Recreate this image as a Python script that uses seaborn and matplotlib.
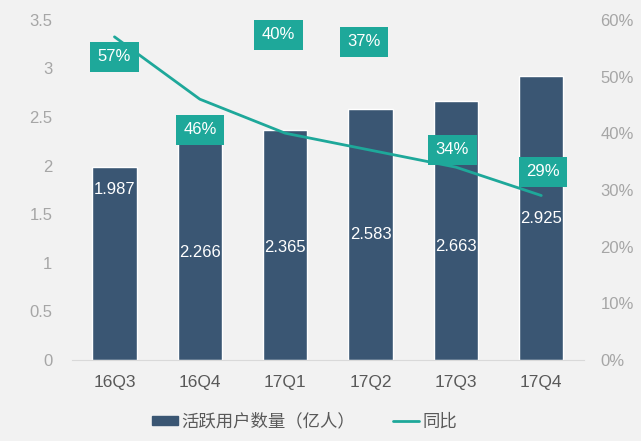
import numpy as np
import pandas as pd
import matplotlib
matplotlib.use('Agg')
import matplotlib.pyplot as plt
from matplotlib.patches import Patch
from matplotlib.lines import Line2D
import seaborn as sns

# data
quarters = ['16Q3', '16Q4', '17Q1', '17Q2', '17Q3', '17Q4']
users = [1.987, 2.266, 2.365, 2.583, 2.663, 2.925]   # 活跃用户数量（亿人）
growth = [57, 46, 40, 37, 34, 29]                    # 同比 (%)

# label placement (value-axis units)
user_lab_y = [1.75, 1.11, 1.16, 1.29, 1.17, 1.46]
growth_lab_x = [0.0, 1.0, 1.92, 2.92, 3.96, 5.02]
growth_lab_y = [53.5, 40.6, 57.4, 56.1, 37.1, 33.2]

bar_color = '#3a5673'
teal = '#1ea89a'
bg = '#f2f2f2'

sns.set_style('white')
plt.rcParams['font.family'] = ['Liberation Sans', 'Noto Sans CJK SC', 'DejaVu Sans']

df = pd.DataFrame({'quarter': quarters, 'users': users, 'growth': growth})

fig = plt.figure(figsize=(6.41, 4.41), dpi=100, facecolor=bg)
ax = fig.add_axes([0.112, 0.184, 0.799, 0.771])
ax.set_facecolor(bg)

sns.barplot(data=df, x='quarter', y='users', color=bar_color, width=0.52,
            saturation=1, ax=ax)
ax.set_xlim(-0.5, 5.5)
ax.set_ylim(0, 3.5)
ax.set_yticks([0, 0.5, 1, 1.5, 2, 2.5, 3, 3.5])
ax.set_yticklabels(['0', '0.5', '1', '1.5', '2', '2.5', '3', '3.5'])
ax.set_xlabel('')
ax.set_ylabel('')
ax.tick_params(axis='y', colors='#a6a6a6', labelsize=12, length=0, pad=14)
ax.tick_params(axis='x', colors='#595959', labelsize=12.5, length=0, pad=11)
for s in ['top', 'right', 'left']:
    ax.spines[s].set_visible(False)
ax.spines['bottom'].set_color('#d9d9d9')

for i, v in enumerate(users):
    ax.text(i, user_lab_y[i], '%.3f' % v, color='white', fontsize=12,
            ha='center', va='center')

# growth line on right axis
ax2 = ax.twinx()
sns.lineplot(x=np.arange(len(growth)), y=growth, color=teal, linewidth=2,
             ax=ax2)
ax2.set_ylim(0, 60)
ax2.set_yticks(range(0, 61, 10))
ax2.set_yticklabels(['%d%%' % t for t in range(0, 61, 10)])
ax2.tick_params(axis='y', colors='#a6a6a6', labelsize=12, length=0, pad=12)
for s in ['top', 'right', 'left', 'bottom']:
    ax2.spines[s].set_visible(False)

for i, v in enumerate(growth):
    ax2.text(growth_lab_x[i], growth_lab_y[i], '%d%%' % v, color='white',
             fontsize=12, ha='center', va='center',
             bbox=dict(boxstyle='square,pad=0.45', fc=teal, ec='none'))

# legend
handles = [Patch(color=bar_color, label='活跃用户数量（亿人）'),
           Line2D([0], [0], color=teal, linewidth=2, label='同比')]
fig.legend(handles=handles, loc='center', bbox_to_anchor=(0.475, 0.045),
           ncol=2, frameon=False, fontsize=12.5, labelcolor='#595959',
           handlelength=1.5, handleheight=0.4, handletextpad=0.2,
           columnspacing=2.2)

fig.savefig('out.png', dpi=100, facecolor=bg)
